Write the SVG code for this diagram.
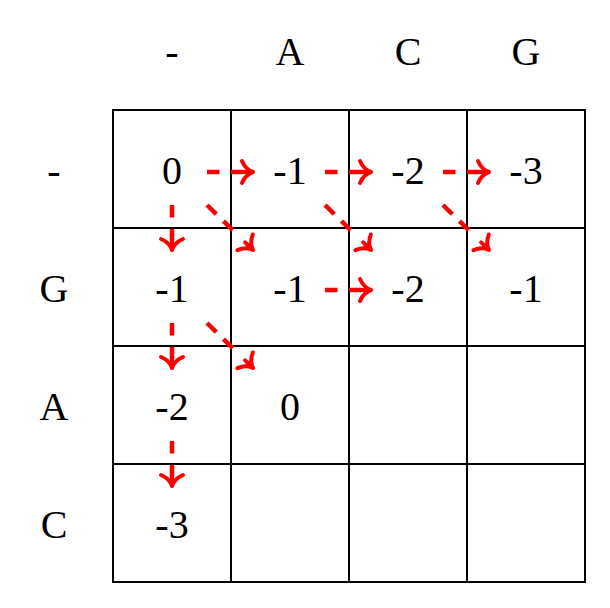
<svg xmlns="http://www.w3.org/2000/svg" width="610" height="608" viewBox="0 0 610 608">
<defs>
<style>
.t{font-family:"Liberation Serif","DejaVu Serif",serif;font-size:40px;fill:#000;text-anchor:middle}
.g{stroke:#000;stroke-width:2;fill:none}
.a{stroke:#ff0000;stroke-width:4.5;fill:none;stroke-dasharray:12.5 11.5;marker-end:url(#ah)}
.d{stroke-dasharray:13 10 13 40}
</style>
<marker id="ah" markerUnits="userSpaceOnUse" orient="auto" markerWidth="30" markerHeight="30" refX="0" refY="0" viewBox="-15 -15 30 30" overflow="visible">
<path d="M-11,0 L0,0 M-11,-11 C-8,-4 -3,-1 0,0 C-3,1 -8,4 -11,11" stroke="#ff0000" stroke-width="4" fill="none" stroke-linecap="round" stroke-linejoin="round"/>
</marker>
</defs>
<rect width="610" height="608" fill="#fff"/>
<g id="grid" class="g">
<rect x="113" y="110" width="472" height="472"/>
<line x1="231" y1="110" x2="231" y2="582"/>
<line x1="349" y1="110" x2="349" y2="582"/>
<line x1="467" y1="110" x2="467" y2="582"/>
<line x1="113" y1="228" x2="585" y2="228"/>
<line x1="113" y1="346" x2="585" y2="346"/>
<line x1="113" y1="464" x2="585" y2="464"/>
</g>
<g id="headers" class="t">
<text x="172" y="65">-</text>
<text x="290" y="65">A</text>
<text x="408" y="65">C</text>
<text x="526" y="65">G</text>
<text x="54" y="184">-</text>
<text x="54" y="302">G</text>
<text x="54" y="420">A</text>
<text x="54" y="538">C</text>
</g>
<g id="values" class="t">
<text x="172" y="184">0</text>
<text x="290" y="184">-1</text>
<text x="408" y="184">-2</text>
<text x="526" y="184">-3</text>
<text x="172" y="302">-1</text>
<text x="290" y="302">-1</text>
<text x="408" y="302">-2</text>
<text x="526" y="302">-1</text>
<text x="172" y="420">-2</text>
<text x="290" y="420">0</text>
<text x="172" y="538">-3</text>
</g>
<g id="connectors">
<path class="a" d="M207,172 L253,172"/>
<path class="a" d="M325,172 L371,172"/>
<path class="a" d="M443,172 L489,172"/>
<path class="a" d="M325,290 L371,290"/>
<path class="a" d="M172,205 L172,250"/>
<path class="a" d="M172,323 L172,368"/>
<path class="a" d="M172,441 L172,486"/>
<path class="a d" d="M207,205 L253,250"/>
<path class="a d" d="M325,205 L371,250"/>
<path class="a d" d="M443,205 L489,250"/>
<path class="a d" d="M207,323 L253,368"/>
</g>
</svg>
